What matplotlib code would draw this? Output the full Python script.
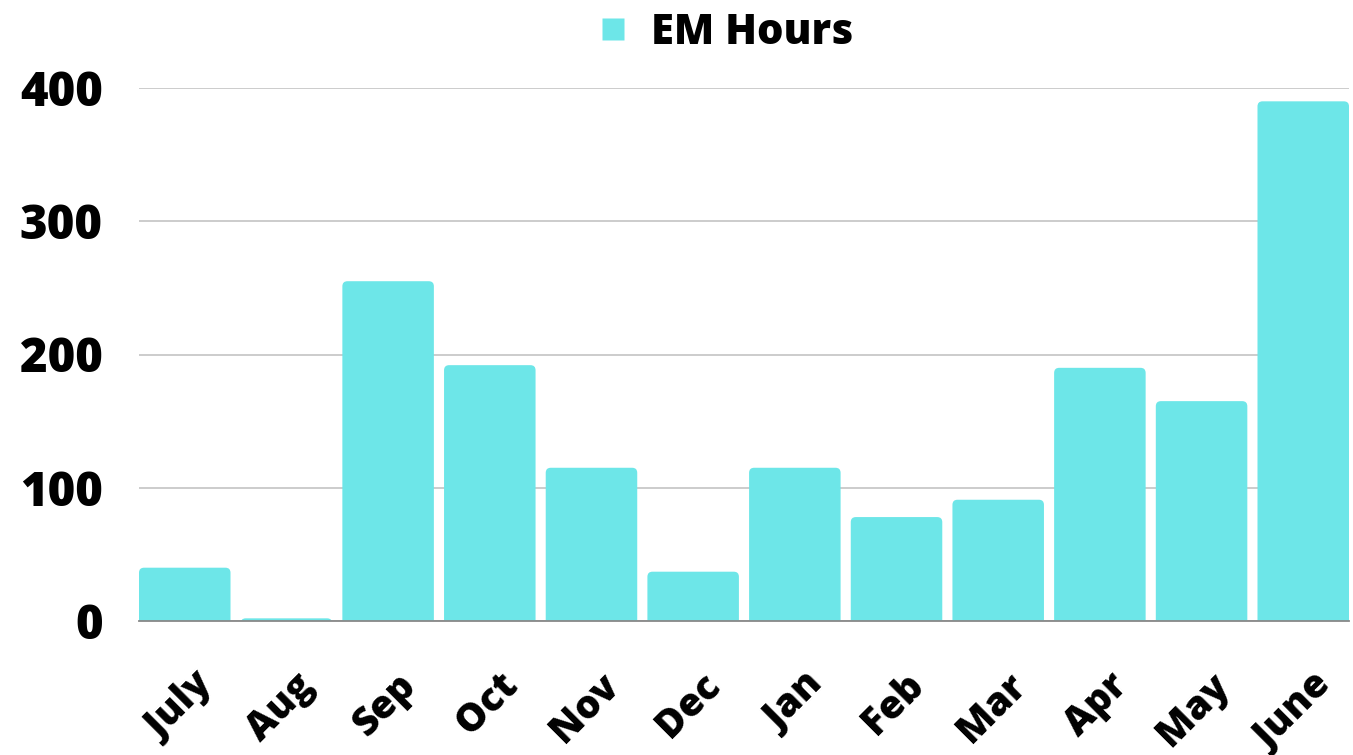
import numpy as np
import matplotlib.pyplot as plt
from matplotlib.patches import FancyBboxPatch
from matplotlib.lines import Line2D
import matplotlib.transforms as mtransforms

plt.rcParams['font.family'] = ['Open Sans', 'DejaVu Sans']

months = ['July', 'Aug', 'Sep', 'Oct', 'Nov', 'Dec', 'Jan', 'Feb', 'Mar', 'Apr', 'May', 'June']
em_hours = [40, 2, 255, 192, 115, 37, 115, 78, 91, 190, 165, 390]
yticks = [0, 100, 200, 300, 400]

bar_color = '#6de6e8'
width = 0.9

fig = plt.figure(figsize=(13.53, 7.55), dpi=100)
ax = fig.add_axes([139 / 1353, 1 - 621 / 755, 1210 / 1353, 533 / 755])

ax.set_xlim(-width / 2, len(months) - 1 + width / 2)
ax.set_ylim(0, 400)

# rounded top corners: bars start below zero so the bottom rounding is clipped
x_per_px = (len(months) - 1 + width) / 1210
y_per_px = 400 / 533
aspect = y_per_px / x_per_px
for i, v in enumerate(em_hours):
    p = FancyBboxPatch((i - width / 2, -20), width, v + 20,
                       boxstyle='round,pad=0,rounding_size=0.05',
                       mutation_aspect=aspect,
                       facecolor=bar_color, edgecolor='none', zorder=2)
    ax.add_patch(p)

ax.set_yticks(yticks)
ax.yaxis.grid(True, color='#c8c8c8', linewidth=1.3, zorder=0)
ax.set_axisbelow(True)
for s in ['top', 'right', 'left']:
    ax.spines[s].set_visible(False)
ax.spines['bottom'].set_color('#888888')
ax.spines['bottom'].set_linewidth(1.3)
ax.spines['bottom'].set_zorder(3)
ax.tick_params(axis='both', length=0)
ax.tick_params(axis='y', pad=26)

ax.set_yticklabels([str(t) for t in yticks], fontsize=34, fontweight='heavy')
ax.set_xticks(range(len(months)))
ax.set_xticklabels(months, fontsize=28, fontweight='heavy', rotation=45,
                   ha='right', rotation_mode='anchor')
offset = mtransforms.ScaledTranslation(8 / 100, -40 / 100, fig.dpi_scale_trans)
for lab in ax.get_xticklabels():
    lab.set_transform(lab.get_transform() + offset)

handle = Line2D([], [], marker='s', linestyle='none', markersize=16,
                markerfacecolor=bar_color, markeredgecolor='none')
fig.legend([handle], ['EM Hours'], loc='center', bbox_to_anchor=(0.534, 1 - 33 / 755),
           frameon=False, prop={'size': 30, 'weight': 'heavy'},
           handletextpad=0.4, handlelength=1.0)

fig.savefig('out.png', dpi=100)
